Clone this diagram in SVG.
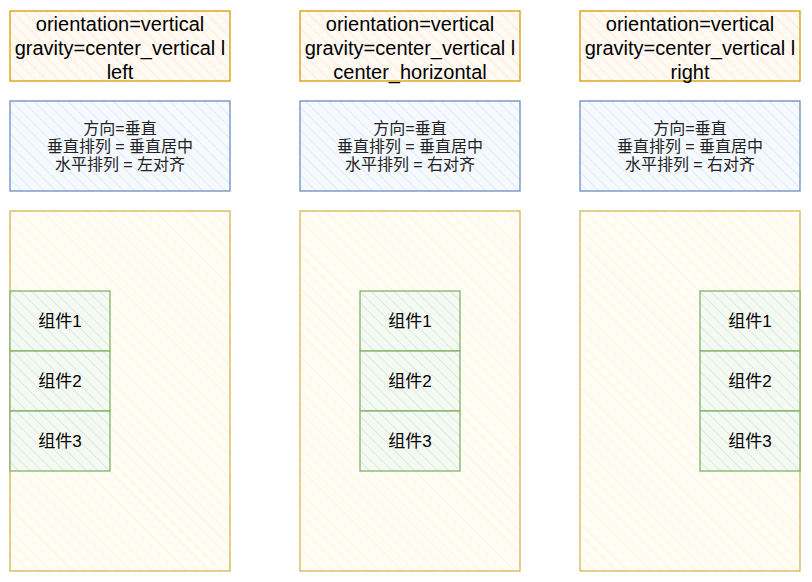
<svg xmlns="http://www.w3.org/2000/svg" width="812" height="582" viewBox="0 0 812 582">
<style>
.t{font-family:"Liberation Sans","Noto Sans CJK SC",sans-serif;fill:#000;text-anchor:middle}
.big{font-size:20px}
.mid{font-size:16px;fill:#222}
.cmp{font-size:17px}
.o{fill:url(#ho);stroke:#d79b00;stroke-width:1.3}
.b{fill:url(#hb);stroke:#6c8ebf;stroke-width:1.3}
.y{fill:url(#hy);stroke:#d6b656;stroke-width:1.3}
.g{fill:url(#hg);stroke:#82b366;stroke-width:1.3}
</style>
<defs>
<pattern id="ho" width="8" height="8" patternUnits="userSpaceOnUse" patternTransform="rotate(-45)"><rect width="8" height="8" fill="#fffaf4"/><line x1="0" y1="0" x2="0" y2="8" stroke="#ffe6cc" stroke-width="1.6"/></pattern>
<pattern id="hb" width="8" height="8" patternUnits="userSpaceOnUse" patternTransform="rotate(-45)"><rect width="8" height="8" fill="#f6f9fe"/><line x1="0" y1="0" x2="0" y2="8" stroke="#dae8fc" stroke-width="1.6"/></pattern>
<pattern id="hy" width="8" height="8" patternUnits="userSpaceOnUse" patternTransform="rotate(-45)"><rect width="8" height="8" fill="#fffdf5"/><line x1="0" y1="0" x2="0" y2="8" stroke="#fff2cc" stroke-width="1.6"/></pattern>
<pattern id="hg" width="8" height="8" patternUnits="userSpaceOnUse" patternTransform="rotate(-45)"><rect width="8" height="8" fill="#f4f9f3"/><line x1="0" y1="0" x2="0" y2="8" stroke="#d5e8d4" stroke-width="1.6"/></pattern>
</defs>

<g id="col1">
<g id="label1"><rect class="o" x="10" y="11" width="220" height="70"/>
<text class="t big" x="120" y="31">orientation=vertical</text>
<text class="t big" x="120" y="55">gravity=center_vertical l</text>
<text class="t big" x="120" y="79">left</text></g>
<g id="desc1"><rect class="b" x="10" y="101" width="220" height="90"/>
<text class="t mid" x="120" y="134">方向=垂直</text>
<text class="t mid" x="120" y="152">垂直排列 = 垂直居中</text>
<text class="t mid" x="120" y="170">水平排列 = 左对齐</text></g>
<g id="container1"><rect class="y" x="10" y="211" width="220" height="360"/></g>
<g id="c1a"><rect class="g" x="10" y="291" width="100" height="60"/><text class="t cmp" x="60" y="327">组件1</text></g>
<g id="c1b"><rect class="g" x="10" y="351" width="100" height="60"/><text class="t cmp" x="60" y="387">组件2</text></g>
<g id="c1c"><rect class="g" x="10" y="411" width="100" height="60"/><text class="t cmp" x="60" y="447">组件3</text></g>
</g>

<g id="col2">
<g id="label2"><rect class="o" x="300" y="11" width="220" height="70"/>
<text class="t big" x="410" y="31">orientation=vertical</text>
<text class="t big" x="410" y="55">gravity=center_vertical l</text>
<text class="t big" x="410" y="79">center_horizontal</text></g>
<g id="desc2"><rect class="b" x="300" y="101" width="220" height="90"/>
<text class="t mid" x="410" y="134">方向=垂直</text>
<text class="t mid" x="410" y="152">垂直排列 = 垂直居中</text>
<text class="t mid" x="410" y="170">水平排列 = 右对齐</text></g>
<g id="container2"><rect class="y" x="300" y="211" width="220" height="360"/></g>
<g id="c2a"><rect class="g" x="360" y="291" width="100" height="60"/><text class="t cmp" x="410" y="327">组件1</text></g>
<g id="c2b"><rect class="g" x="360" y="351" width="100" height="60"/><text class="t cmp" x="410" y="387">组件2</text></g>
<g id="c2c"><rect class="g" x="360" y="411" width="100" height="60"/><text class="t cmp" x="410" y="447">组件3</text></g>
</g>

<g id="col3">
<g id="label3"><rect class="o" x="580" y="11" width="220" height="70"/>
<text class="t big" x="690" y="31">orientation=vertical</text>
<text class="t big" x="690" y="55">gravity=center_vertical l</text>
<text class="t big" x="690" y="79">right</text></g>
<g id="desc3"><rect class="b" x="580" y="101" width="220" height="90"/>
<text class="t mid" x="690" y="134">方向=垂直</text>
<text class="t mid" x="690" y="152">垂直排列 = 垂直居中</text>
<text class="t mid" x="690" y="170">水平排列 = 右对齐</text></g>
<g id="container3"><rect class="y" x="580" y="211" width="220" height="360"/></g>
<g id="c3a"><rect class="g" x="700" y="291" width="100" height="60"/><text class="t cmp" x="750" y="327">组件1</text></g>
<g id="c3b"><rect class="g" x="700" y="351" width="100" height="60"/><text class="t cmp" x="750" y="387">组件2</text></g>
<g id="c3c"><rect class="g" x="700" y="411" width="100" height="60"/><text class="t cmp" x="750" y="447">组件3</text></g>
</g>

<g id="connectors"></g>
</svg>
